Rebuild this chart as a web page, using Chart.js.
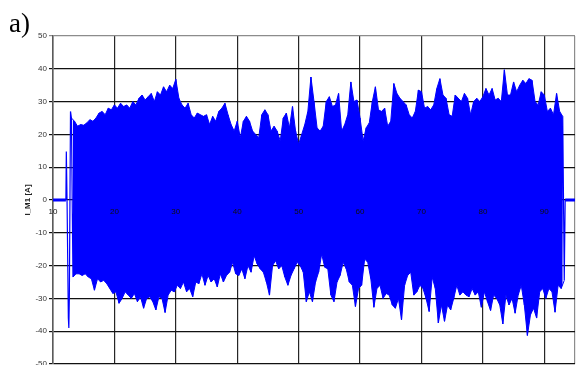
<!DOCTYPE html>
<html>
<head>
<meta charset="utf-8">
<script src="https://cdn.jsdelivr.net/npm/chart.js@4/dist/chart.umd.min.js"></script>
<style>
  html, body { margin: 0; padding: 0; background: #fff; overflow: hidden; }
  #wrap { width: 582px; height: 380px; }
</style>
</head>
<body>
<div id="wrap"><canvas id="chart" width="582" height="380"></canvas></div>
<script>
// Motor current I_M1 [A] over time: one min/max pair per half-unit sample window.
const panelText = 'a)';
const yTitle = 'I_M1 [A]';

const sampleT = [
  13.0, 13.5, 14.0, 14.5, 15.0, 15.5, 16.0, 16.5, 17.0, 17.5,
  18.0, 18.5, 19.0, 19.5, 20.0, 20.5, 21.0, 21.5, 22.0, 22.5,
  23.0, 23.5, 24.0, 24.5, 25.0, 25.5, 26.0, 26.5, 27.0, 27.5,
  28.0, 28.5, 29.0, 29.5, 30.0, 30.5, 31.0, 31.5, 32.0, 32.5,
  33.0, 33.5, 34.0, 34.5, 35.0, 35.5, 36.0, 36.5, 37.0, 37.5,
  38.0, 38.5, 39.0, 39.5, 40.0, 40.5, 41.0, 41.5, 42.0, 42.5,
  43.0, 43.5, 44.0, 44.5, 45.0, 45.5, 46.0, 46.5, 47.0, 47.5,
  48.0, 48.5, 49.0, 49.5, 50.0, 50.5, 51.0, 51.5, 52.0, 52.5,
  53.0, 53.5, 54.0, 54.5, 55.0, 55.5, 56.0, 56.5, 57.0, 57.5,
  58.0, 58.5, 59.0, 59.5, 60.0, 60.5, 61.0, 61.5, 62.0, 62.5,
  63.0, 63.5, 64.0, 64.5, 65.0, 65.5, 66.0, 66.5, 67.0, 67.5,
  68.0, 68.5, 69.0, 69.5, 70.0, 70.5, 71.0, 71.5, 72.0, 72.5,
  73.0, 73.5, 74.0, 74.5, 75.0, 75.5, 76.0, 76.5, 77.0, 77.5,
  78.0, 78.5, 79.0, 79.5, 80.0, 80.5, 81.0, 81.5, 82.0, 82.5,
  83.0, 83.5, 84.0, 84.5, 85.0, 85.5, 86.0, 86.5, 87.0, 87.5,
  88.0, 88.5, 89.0, 89.5, 90.0, 90.5, 91.0, 91.5, 92.0, 92.5,
  93.0
];

// Positive peak in each window
const iMax = [
  25, 24, 22.5, 23, 22.8, 23.5, 24.5, 24, 25, 26.5,
  27, 26, 28, 27.5, 29, 28, 29.5, 28.5, 29, 28,
  30, 29, 31, 32, 30.5, 31.5, 32.5, 30, 33, 32,
  34.5, 33, 35, 34, 36.8, 31, 29, 28, 29.5, 26,
  25, 26.5, 26, 25.5, 26, 23, 25.5, 24, 27, 28,
  29.5, 26, 23, 21, 24, 19, 24, 25.5, 24, 21,
  20, 19, 26, 27.5, 26, 21, 22.5, 21, 18, 25,
  26.5, 22, 28.5, 21, 17, 20, 23, 27, 37.5, 30,
  22, 21, 22.5, 30, 31.5, 28.5, 29, 32.5, 21, 23,
  26, 36, 30, 30.5, 25, 18, 22, 23.5, 30, 34.5,
  27.5, 27, 28, 22.5, 24, 35.5, 32.5, 31, 30, 29,
  26, 25, 27, 33.5, 33, 28, 28.5, 27.5, 29, 34,
  37, 32, 31, 26, 25.5, 32, 31, 30, 32.5, 31,
  26, 30, 31, 30, 31.5, 34, 32, 34, 30.5, 31,
  30, 39.7, 32, 32, 36, 33, 35, 36.5, 35.5, 37,
  36.5, 30, 29, 33, 32, 27, 28, 26, 32.5, 27,
  25.5
];

// Negative peak in each window
const iMin = [
  -23.5, -22.5, -22.5, -23, -22.5, -23.5, -24, -27.5, -24, -25,
  -24.5, -25.5, -27, -28.5, -28, -31.5, -30, -28, -29, -30,
  -28.5, -31, -29.5, -33, -30, -29.5, -31, -33.5, -29.5, -30,
  -34.3, -29, -27.5, -28, -26, -27, -25, -28, -27, -29.5,
  -25, -25.5, -22.5, -26, -23, -25, -24, -26.5, -22.5, -25,
  -23, -22, -19, -22.5, -23, -21, -24, -20, -22, -17,
  -19.5, -21, -22, -25, -29, -20, -18.5, -21, -20, -23.5,
  -26, -23, -21, -19, -20, -22, -31, -28, -31, -25,
  -22, -16.5, -20.5, -21, -29, -31, -25, -23, -19, -21,
  -25, -26, -32.5, -27, -26, -18, -19, -24, -32.7, -27,
  -26, -30, -28.5, -29, -32, -33, -30, -36.5, -26, -23,
  -22, -29, -28, -26, -27, -30, -34, -23.5, -27, -37.5,
  -32, -37, -32, -33.5, -30, -26, -29, -28, -29, -29.5,
  -27, -29, -28, -32.7, -28, -31, -33.7, -29, -30, -32,
  -37.8, -29, -32, -30, -34.5, -29, -26, -32, -41.3, -35,
  -33, -36, -28, -27, -30, -27, -28, -34.2, -26, -27,
  -24.5
];

// Switch-on transient before the steady oscillation
const startT = [12.1, 12.17, 12.3, 12.5, 12.58, 12.66, 12.85];
const startI = [0, 14.8, -2, -36, -39, -30, 27];
const stopT = [93.4];
const stopI = [0];

// Idle (zero current) stretches before and after the run
const idleBeforeT = [10, 12.1];
const idleAfterT = [93.4, 95];

const xGridValues = [10, 20, 30, 40, 50, 60, 70, 80, 90, 95];
const xTickLabels = [10, 20, 30, 40, 50, 60, 70, 80, 90];
const yTickValues = [-50, -40, -30, -20, -10, 0, 10, 20, 30, 40, 50];

const BLUE = '#0000ff';

// Oscillating trace: each window contributes its maximum then its minimum
const trace = startT.map((t, i) => ({ x: t, y: startI[i] }));
sampleT.forEach((t, i) => {
  trace.push({ x: t, y: iMax[i] });
  trace.push({ x: t + 0.25, y: iMin[i] });
});
stopT.forEach((t, i) => trace.push({ x: t, y: stopI[i] }));

// Upper and lower envelopes, filled between them
const upper = sampleT.map((t, i) => ({ x: t, y: iMax[i] }));
const lower = sampleT.map((t, i) => ({ x: t + 0.25, y: iMin[i] }));

const idle = [
  ...idleBeforeT.map(t => ({ x: t, y: 0 })),
  { x: 50, y: null },
  ...idleAfterT.map(t => ({ x: t, y: 0 }))
];

const panelLabel = {
  id: 'panelLabel',
  afterDraw(chart) {
    const c = chart.ctx;
    c.save();
    c.font = '27px "Liberation Serif", "Times New Roman", serif';
    c.fillStyle = '#000';
    c.textBaseline = 'alphabetic';
    c.textAlign = 'left';
    c.fillText(panelText, 9, 32);
    c.restore();
  }
};

const tickFont = { family: '"Liberation Sans", Arial, sans-serif', size: 8 };

new Chart(document.getElementById('chart'), {
  type: 'line',
  data: {
    datasets: [
      {
        data: upper,
        borderColor: BLUE,
        backgroundColor: BLUE,
        borderWidth: 1,
        pointRadius: 0,
        tension: 0,
        fill: '+1'
      },
      {
        data: lower,
        borderColor: BLUE,
        borderWidth: 1,
        pointRadius: 0,
        tension: 0,
        fill: false
      },
      {
        data: trace,
        borderColor: BLUE,
        borderWidth: 1.2,
        pointRadius: 0,
        tension: 0,
        fill: false
      },
      {
        data: idle,
        borderColor: BLUE,
        borderWidth: 3,
        pointRadius: 0,
        spanGaps: false,
        tension: 0,
        fill: false
      }
    ]
  },
  options: {
    responsive: false,
    animation: false,
    devicePixelRatio: 1,
    layout: { padding: { left: 0, top: 36, right: 4, bottom: 16 } },
    plugins: { legend: { display: false }, tooltip: { enabled: false } },
    scales: {
      x: {
        type: 'linear',
        min: 10,
        max: 95,
        position: { y: 0 },
        afterBuildTicks: s => { s.ticks = xGridValues.map(v => ({ value: v })); },
        ticks: {
          z: 1,
          padding: 7,
          autoSkip: false,
          maxRotation: 0,
          color: '#101010',
          font: tickFont,
          callback: v => (xTickLabels.includes(v) ? String(v) : '')
        },
        grid: {
          drawTicks: false,
          lineWidth: 1.2,
          color: ctx => (ctx.tick && ctx.tick.value === 95 ? '#8c8c8c' : '#262626')
        },
        border: { display: false }
      },
      y: {
        type: 'linear',
        min: -50,
        max: 50,
        afterBuildTicks: s => { s.ticks = yTickValues.map(v => ({ value: v })); },
        afterFit: s => { s.width = 53; },
        ticks: {
          padding: 2,
          color: '#333',
          font: tickFont
        },
        grid: {
          tickLength: 4,
          lineWidth: 1.2,
          color: ctx => (ctx.tick && ctx.tick.value === 50 ? '#8c8c8c' : '#111')
        },
        border: { display: true, color: '#5a5a5a', width: 1.5 },
        title: {
          display: true,
          text: yTitle,
          color: '#222',
          font: { family: '"Liberation Sans", Arial, sans-serif', size: 8, weight: 'bold' },
          padding: { top: 23, bottom: 0 }
        }
      }
    }
  },
  plugins: [panelLabel]
});
</script>
</body>
</html>
